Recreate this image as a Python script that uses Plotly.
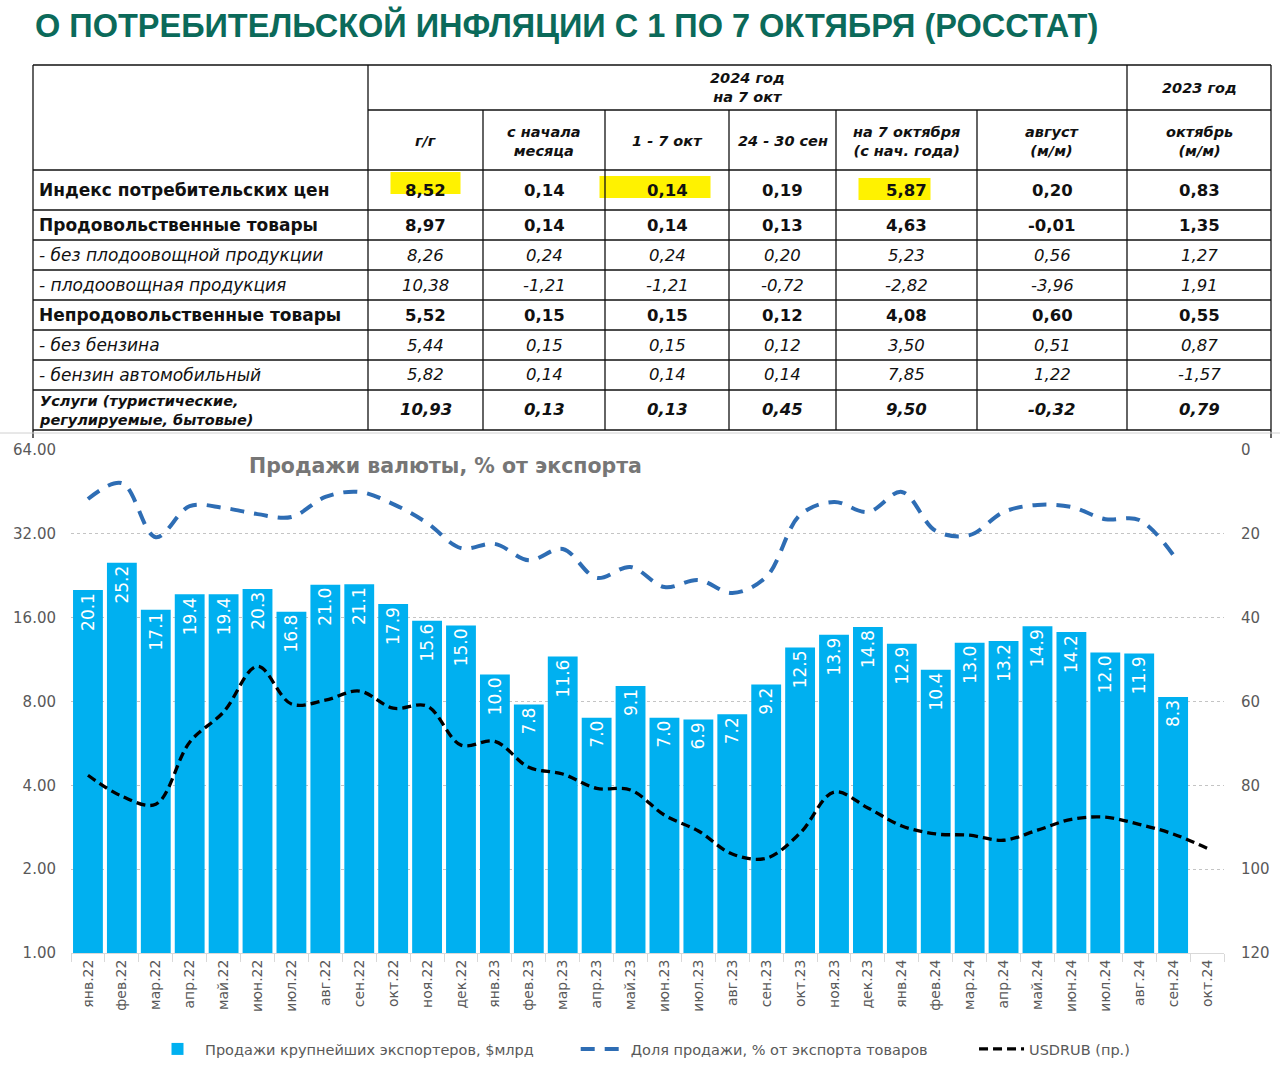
import math
import plotly.graph_objects as go

W, H = 1280, 1075

# ---------------- data ----------------
TITLE = "О ПОТРЕБИТЕЛЬСКОЙ ИНФЛЯЦИИ С 1 ПО 7 ОКТЯБРЯ (РОССТАТ)"

group_headers = ["2024 год<br>на 7 окт", "2023 год"]
col_headers = ["г/г", "с начала<br>месяца", "1 - 7 окт", "24 - 30 сен",
               "на 7 октября<br>(с нач. года)", "август<br>(м/м)", "октябрь<br>(м/м)"]
row_labels = ["Индекс потребительских цен", "Продовольственные товары",
              "- без плодоовощной продукции", "- плодоовощная продукция",
              "Непродовольственные товары", "- без бензина",
              "- бензин автомобильный", "Услуги (туристические,<br>регулируемые, бытовые)"]
row_style = ["b", "b", "i", "i", "b", "i", "i", "bi"]
col_yoy = [8.52, 8.97, 8.26, 10.38, 5.52, 5.44, 5.82, 10.93]
col_mtd = [0.14, 0.14, 0.24, -1.21, 0.15, 0.15, 0.14, 0.13]
col_wk = [0.14, 0.14, 0.24, -1.21, 0.15, 0.15, 0.14, 0.13]
col_prev_wk = [0.19, 0.13, 0.20, -0.72, 0.12, 0.12, 0.14, 0.45]
col_ytd = [5.87, 4.63, 5.23, -2.82, 4.08, 3.50, 7.85, 9.50]
col_aug = [0.20, -0.01, 0.56, -3.96, 0.60, 0.51, 1.22, -0.32]
col_oct23 = [0.83, 1.35, 1.27, 1.91, 0.55, 0.87, -1.57, 0.79]
table_cols = [col_yoy, col_mtd, col_wk, col_prev_wk, col_ytd, col_aug, col_oct23]
highlight_cells = [(0, 0), (0, 2), (0, 4)]

months = ["янв.22", "фев.22", "мар.22", "апр.22", "май.22", "июн.22", "июл.22", "авг.22",
          "сен.22", "окт.22", "ноя.22", "дек.22", "янв.23", "фев.23", "мар.23", "апр.23",
          "май.23", "июн.23", "июл.23", "авг.23", "сен.23", "окт.23", "ноя.23", "дек.23",
          "янв.24", "фев.24", "мар.24", "апр.24", "май.24", "июн.24", "июл.24", "авг.24",
          "сен.24", "окт.24"]
sales = [20.1, 25.2, 17.1, 19.4, 19.4, 20.3, 16.8, 21.0, 21.1, 17.9, 15.6, 15.0,
         10.0, 7.8, 11.6, 7.0, 9.1, 7.0, 6.9, 7.2, 9.2, 12.5, 13.9, 14.8,
         12.9, 10.4, 13.0, 13.2, 14.9, 14.2, 12.0, 11.9, 8.3]
share = [11.7, 7.9, 20.8, 13.4, 13.8, 15.3, 16.0, 11.2, 10.0, 12.9, 17.4, 23.4,
         22.4, 26.3, 23.6, 30.5, 27.9, 32.7, 31.0, 34.1, 30.3, 15.5, 12.4, 14.8,
         10.0, 19.3, 20.3, 14.8, 13.1, 13.6, 16.5, 16.7, 25.0]
usdrub = [77.6, 82.6, 84.5, 69.7, 62.5, 51.6, 60.6, 59.7, 57.5, 61.6, 61.1, 70.4,
          69.5, 75.7, 77.3, 80.7, 81.1, 87.1, 90.9, 96.4, 97.4, 91.4, 81.6, 85.4,
          89.7, 91.6, 91.9, 93.1, 90.7, 88.1, 87.6, 89.3, 91.6, 95.0]
left_ticks = [1, 2, 4, 8, 16, 32, 64]
right_ticks = [0, 20, 40, 60, 80, 100, 120]
series_names = ["Продажи крупнейших экспортеров, $млрд",
                "Доля продажи, % от экспорта товаров",
                "USDRUB (пр.)"]

# ---------------- geometry / style ----------------
def px(x):
    return x / W

def py(y):
    return 1 - y / H

TFONT = "DejaVu Sans, Verdana, sans-serif"
CFONT = "DejaVu Sans, sans-serif"
GREY = "#595959"
COL_X = [33, 368, 483, 605, 729, 836, 977, 1127, 1271]
ROW_Y = [170, 210, 240, 270, 300, 330, 360, 390, 430]
HEAD_TOP, HEAD_MID = 65, 110
HL_STYLE = {(0, 0): (0, 70, -7), (0, 2): (-12, 111, -3), (0, 4): (-12, 72, -1)}
LEGEND_PAD = [8, 9, 0]   # non-breaking spaces after names to space legend entries

shapes = []
annotations = []

def hline(x0, x1, y, color="#111", w=1.3):
    shapes.append(dict(type="line", xref="paper", yref="paper", x0=px(x0), x1=px(x1),
                       y0=py(y), y1=py(y), line=dict(color=color, width=w)))

def vline(x, y0, y1, color="#111", w=1.3):
    shapes.append(dict(type="line", xref="paper", yref="paper", x0=px(x), x1=px(x),
                       y0=py(y0), y1=py(y1), line=dict(color=color, width=w)))

def note(x, y, text, size, family=TFONT, color="#111", xanchor="center", align="center"):
    annotations.append(dict(xref="paper", yref="paper", x=px(x), y=py(y), text=text,
                            xanchor=xanchor, yanchor="middle", align=align, showarrow=False,
                            font=dict(family=family, size=size, color=color)))

# highlights (behind text)
for (r, c) in highlight_cells:
    dx, wd, dy = HL_STYLE[(r, c)]
    cx = (COL_X[c + 1] + COL_X[c + 2]) / 2 + dx
    cy = (ROW_Y[r] + ROW_Y[r + 1]) / 2 + dy
    shapes.append(dict(type="rect", xref="paper", yref="paper", layer="below",
                       x0=px(cx - wd / 2), x1=px(cx + wd / 2), y0=py(cy - 11), y1=py(cy + 11),
                       fillcolor="#FFF200", line=dict(width=0)))

# table grid
hline(COL_X[0], COL_X[-1], HEAD_TOP)
hline(COL_X[1], COL_X[-1], HEAD_MID)
for y in ROW_Y:
    hline(COL_X[0], COL_X[-1], y)
vline(COL_X[0], HEAD_TOP, ROW_Y[-1] + 8)
vline(COL_X[-1], HEAD_TOP, ROW_Y[-1] + 8)
vline(COL_X[1], HEAD_TOP, ROW_Y[-1])
vline(COL_X[-2], HEAD_TOP, ROW_Y[-1])
for x in COL_X[2:-2]:
    vline(x, HEAD_MID, ROW_Y[-1])
hline(0, W, 433, color="#d0d0d0", w=1)

def fmt_tag(text, style):
    if "i" in style:
        text = "<i>" + text + "</i>"
    if "b" in style:
        text = "<b>" + text + "</b>"
    return text

# headers
note((COL_X[1] + COL_X[-2]) / 2, (HEAD_TOP + HEAD_MID) / 2, fmt_tag(group_headers[0], "bi"), 14.5)
note((COL_X[-2] + COL_X[-1]) / 2, (HEAD_TOP + HEAD_MID) / 2, fmt_tag(group_headers[1], "bi"), 14.5)
for c, h in enumerate(col_headers):
    note((COL_X[c + 1] + COL_X[c + 2]) / 2, (HEAD_MID + ROW_Y[0]) / 2 + 1, fmt_tag(h, "bi"), 14.5)

# body
for r, lab in enumerate(row_labels):
    cy = (ROW_Y[r] + ROW_Y[r + 1]) / 2
    st = row_style[r]
    lsize = 14.5 if st == "bi" else 17
    note(COL_X[0] + 4, cy + (1 if st == "bi" else 0), fmt_tag(lab, st), lsize,
         xanchor="left", align="left")
    for c, col in enumerate(table_cols):
        val = f"{col[r]:.2f}".replace(".", ",")
        note((COL_X[c + 1] + COL_X[c + 2]) / 2, cy, fmt_tag(val, st), 16.5)

# page title
note(33, 25, "<b>" + TITLE + "</b>", 32.5, family="Liberation Sans, Arial",
     color="#0B6A5A", xanchor="left", align="left")
# chart title
note(247, 466, "<b>Продажи валюты, % от экспорта</b>", 20.5, family=CFONT,
     color="#767676", xanchor="left", align="left")

# ---------------- chart ----------------
legend_names = [n + "\u00a0" * p for n, p in zip(series_names, LEGEND_PAD)]

fig = go.Figure()
fig.add_trace(go.Bar(
    x=months[:len(sales)], y=sales, name=legend_names[0],
    marker=dict(color="#00B0F0", line=dict(width=0)),
    text=[f"{v:.1f}" for v in sales], textposition="inside", textangle=-90,
    insidetextanchor="end", textfont=dict(color="white", size=17, family=CFONT),
    hoverinfo="skip"))
fig.add_trace(go.Scatter(
    x=months[:len(share)], y=share, yaxis="y2", mode="lines", name=legend_names[1],
    line=dict(color="#2E6DB4", width=4, dash="14px,10px", shape="spline", smoothing=1.0)))
fig.add_trace(go.Scatter(
    x=months, y=usdrub, yaxis="y2", mode="lines", name=legend_names[2],
    line=dict(color="#000000", width=3.3, dash="9px,5px", shape="spline", smoothing=1.0)))

fig.update_layout(
    width=W, height=H, margin=dict(l=0, r=0, t=0, b=0),
    paper_bgcolor="white", plot_bgcolor="rgba(0,0,0,0)",
    bargap=0.12, showlegend=True,
    shapes=shapes, annotations=annotations,
    xaxis=dict(domain=[px(71), px(1224)], type="category", tickangle=-90,
               range=[-0.5, len(months) - 0.5],
               tickfont=dict(family=CFONT, size=14, color=GREY),
               showline=True, linecolor="#d9d9d9", linewidth=1,
               ticks="outside", tickson="boundaries", ticklen=8, tickcolor="#d9d9d9",
               showgrid=False, automargin=False, fixedrange=True),
    yaxis=dict(domain=[py(953), py(450)], type="log", range=[0, math.log10(64)],
               tickvals=left_ticks, ticktext=[f"{v:.2f}" for v in left_ticks],
               tickfont=dict(family=CFONT, size=15, color=GREY),
               showgrid=True, gridcolor="#c4c4c4", griddash="dot", gridwidth=1,
               zeroline=False, showline=False, ticks="", ticklabelstandoff=14,
               automargin=False),
    yaxis2=dict(overlaying="y", side="right", range=[120, 0], tickvals=right_ticks,
                tickfont=dict(family=CFONT, size=15, color=GREY), showgrid=False,
                zeroline=False, showline=False, ticks="", ticklabelstandoff=16,
                automargin=False),
    legend=dict(orientation="h", x=px(150), y=py(1049), xanchor="left", yanchor="middle",
                font=dict(family=CFONT, size=14.5, color=GREY), itemwidth=45,
                bgcolor="rgba(0,0,0,0)"),
)

fig.write_html("out.html", config={"displayModeBar": False},
               post_script="document.body.style.margin='0';")
